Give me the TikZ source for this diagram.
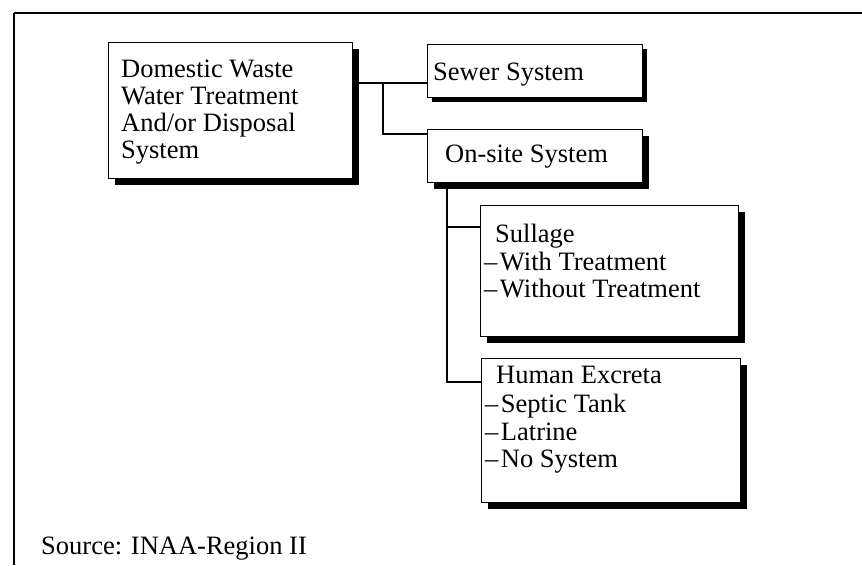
\documentclass[tikz,border=0pt]{standalone}
\usepackage{fontspec}
\setmainfont{Liberation Serif}
\usetikzlibrary{shadows}
\newcommand\bigfs{\fontsize{26.5}{28}\selectfont}
\tikzset{
  box/.style={draw, fill=white, line width=1.1pt, inner sep=0pt, anchor=north west,
    drop shadow={shadow xshift=6.5pt, shadow yshift=-6.5pt, fill=black, opacity=1}},
  smallshadowbox/.style={draw, fill=white, line width=1.1pt, inner sep=0pt, anchor=north west,
    drop shadow={shadow xshift=4.5pt, shadow yshift=-4.5pt, fill=black, opacity=1}},
  txt/.style={anchor=base west, inner sep=0pt, font=\bigfs},
  conn/.style={line width=1.4pt},
  frame/.style={line width=1.3pt}
}
\begin{document}
\begin{tikzpicture}[x=1pt, y=-1pt]
\useasboundingbox (0,0) rectangle (862,565);
% outer frame (open at right and bottom)
\coordinate (fa) at (14,565);
\coordinate (fb) at (14,13);
\coordinate (fc) at (862,13);
\draw[frame] (fb) -- (fc);
\draw[line width=2.6pt] (fa) -- (fb);

% boxes
\node[box, minimum width=244pt, minimum height=136pt] (dom) at (108,42) {};
\node[smallshadowbox, minimum width=215pt, minimum height=53pt] (sewer) at (427,44) {};
\node[box, minimum width=215pt, minimum height=53pt] (onsite) at (427,129) {};
\node[box, minimum width=258pt, minimum height=131pt] (sullage) at (480,205) {};
\node[box, minimum width=259pt, minimum height=144pt] (human) at (481,358) {};

% texts
\node[txt] (d1) at (121,77) {Domestic Waste};
\node[txt] (d2) at (121,104) {Water Treatment};
\node[txt] (d3) at (121,131) {And/or Disposal};
\node[txt] (d4) at (121,158) {System};

\node[txt] (s1) at (433,80) {Sewer System};
\node[txt] (o1) at (445,162) {On-site System};

\node[txt] (u1) at (495,242) {Sullage};
\node[txt] (u2) at (484,270) {--\kern2.5pt With Treatment};
\node[txt] (u3) at (484,297) {--\kern2.5pt Without Treatment};

\node[txt] (h1) at (496,383) {Human Excreta};
\node[txt] (h2) at (485,412) {--\kern2.5pt Septic Tank};
\node[txt] (h3) at (485,440) {--\kern2.5pt Latrine};
\node[txt] (h4) at (485,467) {--\kern2.5pt No System};

\node[txt] (src) at (41,554) {Source: INAA-Region II};

% connectors
\coordinate (j1) at (383,83);
\coordinate (j2) at (383,134);
\draw[conn] (dom.east |- j1) -- (sewer.west |- j1);
\draw[conn] (j1) -- (j2) -- (j2 -| onsite.west);

\coordinate (k1) at (447,227);
\coordinate (k2) at (447,382);
\draw[conn] (onsite.south -| k1) -- (k2) -- (k2 -| human.west);
\draw[conn] (k1) -- (k1 -| sullage.west);
\end{tikzpicture}
\end{document}
